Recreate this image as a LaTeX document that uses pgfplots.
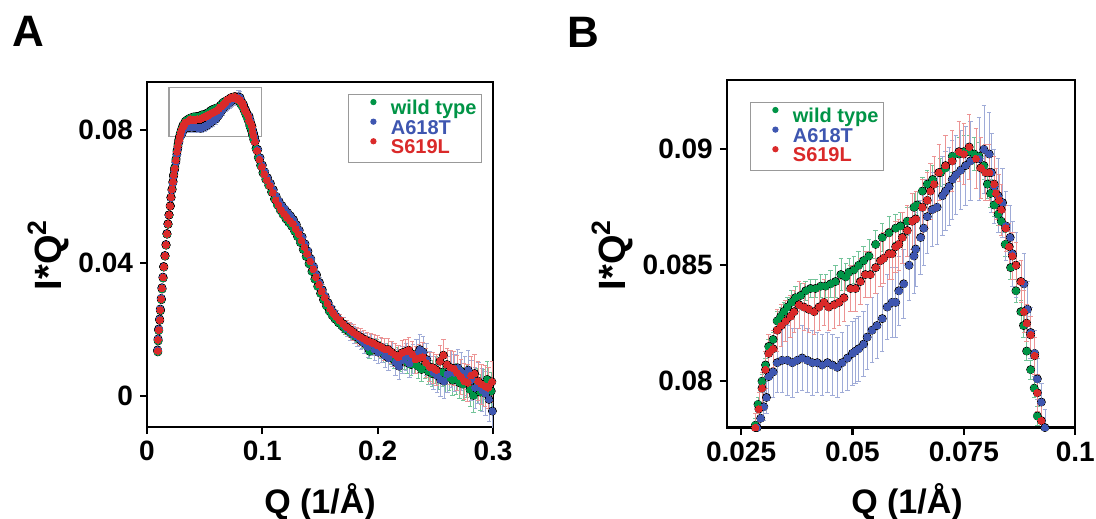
\documentclass[border=0pt]{standalone}
\usepackage{fontspec}
\setmainfont{Liberation Sans}
\usepackage{pgfplots}
\usepackage{pgfplotstable}
\pgfplotsset{compat=1.18}

\definecolor{wtgreen}{RGB}{0,148,70}
\definecolor{mblue}{RGB}{62,86,176}
\definecolor{mred}{RGB}{218,42,42}

% wild type: q, I*Q^2, error
\pgfplotstableread{
q i e
0.0094 0.0133 0.0002
0.0097 0.0166 0.0002
0.0102 0.0197 0.0002
0.0111 0.0228 0.0002
0.0117 0.0257 0.0002
0.0125 0.0290 0.0002
0.0131 0.0322 0.0002
0.0140 0.0355 0.0002
0.0146 0.0388 0.0002
0.0157 0.0421 0.0002
0.0166 0.0454 0.0002
0.0174 0.0487 0.0002
0.0183 0.0517 0.0002
0.0192 0.0545 0.0002
0.0203 0.0572 0.0002
0.0209 0.0598 0.0002
0.0218 0.0623 0.0002
0.0226 0.0646 0.0002
0.0232 0.0667 0.0002
0.0241 0.0688 0.0002
0.0252 0.0714 0.0002
0.0261 0.0740 0.0002
0.0269 0.0758 0.0002
0.0276 0.0772 0.0002
0.0282 0.0781 0.0003
0.0288 0.0790 0.0003
0.0297 0.0800 0.0003
0.0305 0.0807 0.0003
0.0312 0.0815 0.0003
0.0322 0.0818 0.0003
0.0331 0.0826 0.0004
0.0339 0.0828 0.0004
0.0346 0.0830 0.0004
0.0354 0.0832 0.0004
0.0363 0.0834 0.0005
0.0372 0.0836 0.0005
0.0384 0.0837 0.0005
0.0395 0.0839 0.0004
0.0406 0.0840 0.0004
0.0417 0.0840 0.0004
0.0429 0.0841 0.0005
0.0440 0.0841 0.0005
0.0451 0.0842 0.0006
0.0462 0.0843 0.0007
0.0474 0.0846 0.0007
0.0485 0.0845 0.0006
0.0492 0.0847 0.0006
0.0503 0.0848 0.0006
0.0514 0.0850 0.0006
0.0525 0.0852 0.0006
0.0537 0.0854 0.0007
0.0552 0.0859 0.0006
0.0567 0.0862 0.0006
0.0582 0.0864 0.0007
0.0597 0.0866 0.0006
0.0608 0.0867 0.0006
0.0623 0.0869 0.0006
0.0638 0.0875 0.0006
0.0645 0.0876 0.0006
0.0657 0.0882 0.0006
0.0668 0.0885 0.0006
0.0680 0.0887 0.0006
0.0698 0.0890 0.0006
0.0709 0.0892 0.0007
0.0724 0.0897 0.0007
0.0739 0.0898 0.0007
0.0750 0.0899 0.0007
0.0762 0.0899 0.0007
0.0773 0.0898 0.0007
0.0784 0.0897 0.0006
0.0795 0.0893 0.0006
0.0803 0.0885 0.0006
0.0810 0.0881 0.0006
0.0818 0.0876 0.0005
0.0827 0.0872 0.0005
0.0834 0.0869 0.0005
0.0843 0.0859 0.0005
0.0855 0.0849 0.0005
0.0867 0.0839 0.0005
0.0878 0.0830 0.0005
0.0884 0.0824 0.0005
0.0891 0.0813 0.0004
0.0900 0.0805 0.0004
0.0908 0.0797 0.0004
0.0915 0.0785 0.0004
0.0925 0.0772 0.0004
0.0945 0.0745 0.0004
0.0965 0.0718 0.0004
0.0985 0.0694 0.0004
0.1005 0.0672 0.0004
0.1030 0.0652 0.0004
0.1055 0.0634 0.0005
0.1080 0.0614 0.0005
0.1105 0.0593 0.0005
0.1130 0.0575 0.0005
0.1155 0.0560 0.0005
0.1180 0.0546 0.0005
0.1205 0.0533 0.0006
0.1230 0.0522 0.0006
0.1255 0.0511 0.0006
0.1280 0.0496 0.0006
0.1305 0.0480 0.0006
0.1330 0.0462 0.0006
0.1355 0.0441 0.0007
0.1380 0.0420 0.0007
0.1405 0.0398 0.0007
0.1430 0.0375 0.0008
0.1455 0.0352 0.0008
0.1480 0.0330 0.0008
0.1505 0.0309 0.0009
0.1530 0.0290 0.0009
0.1555 0.0272 0.0010
0.1580 0.0256 0.0010
0.1605 0.0243 0.0011
0.1630 0.0232 0.0011
0.1660 0.0221 0.0012
0.1690 0.0211 0.0013
0.1720 0.0201 0.0014
0.1750 0.0194 0.0015
0.1780 0.0186 0.0016
0.1810 0.0179 0.0017
0.1840 0.0172 0.0018
0.1870 0.0163 0.0019
0.1900 0.0155 0.0020
0.1930 0.0135 0.0022
0.1960 0.0150 0.0023
0.1990 0.0146 0.0024
0.2020 0.0140 0.0025
0.2050 0.0128 0.0026
0.2080 0.0133 0.0027
0.2110 0.0124 0.0028
0.2140 0.0112 0.0029
0.2170 0.0118 0.0030
0.2200 0.0106 0.0031
0.2230 0.0112 0.0032
0.2260 0.0100 0.0033
0.2290 0.0095 0.0034
0.2320 0.0104 0.0035
0.2350 0.0090 0.0036
0.2380 0.0080 0.0037
0.2410 0.0092 0.0038
0.2440 0.0074 0.0039
0.2470 0.0068 0.0040
0.2500 0.0080 0.0041
0.2530 0.0062 0.0042
0.2560 0.0072 0.0043
0.2590 0.0055 0.0044
0.2620 0.0061 0.0045
0.2650 0.0048 0.0046
0.2680 0.0052 0.0047
0.2710 0.0040 0.0048
0.2740 0.0036 0.0049
0.2770 0.0045 0.0050
0.2800 0.0020 0.0051
0.2830 0.0002 0.0052
0.2860 0.0030 0.0053
0.2890 0.0012 0.0054
0.2920 0.0024 0.0055
0.2950 0.0050 0.0056
0.2985 0.0015 0.0057
}\wt

% A618T
\pgfplotstableread{
q i e
0.0092 0.0139 0.0002
0.0096 0.0172 0.0002
0.0101 0.0202 0.0002
0.0109 0.0232 0.0002
0.0115 0.0262 0.0002
0.0123 0.0294 0.0002
0.0129 0.0326 0.0002
0.0138 0.0358 0.0002
0.0144 0.0390 0.0002
0.0155 0.0423 0.0002
0.0164 0.0456 0.0002
0.0172 0.0489 0.0002
0.0181 0.0518 0.0002
0.0190 0.0545 0.0002
0.0201 0.0572 0.0002
0.0207 0.0597 0.0002
0.0216 0.0620 0.0002
0.0224 0.0642 0.0002
0.0230 0.0661 0.0002
0.0239 0.0680 0.0002
0.0250 0.0704 0.0002
0.0259 0.0727 0.0002
0.0267 0.0745 0.0003
0.0277 0.0765 0.0003
0.0286 0.0780 0.0004
0.0294 0.0784 0.0005
0.0301 0.0789 0.0006
0.0307 0.0793 0.0007
0.0312 0.0802 0.0009
0.0322 0.0804 0.0011
0.0331 0.0808 0.0013
0.0342 0.0809 0.0014
0.0354 0.0809 0.0015
0.0365 0.0808 0.0015
0.0376 0.0809 0.0014
0.0387 0.0810 0.0014
0.0399 0.0809 0.0014
0.0410 0.0808 0.0014
0.0421 0.0808 0.0013
0.0432 0.0807 0.0013
0.0444 0.0808 0.0013
0.0455 0.0807 0.0013
0.0466 0.0806 0.0013
0.0477 0.0808 0.0013
0.0489 0.0810 0.0014
0.0500 0.0812 0.0014
0.0507 0.0813 0.0014
0.0514 0.0814 0.0014
0.0525 0.0816 0.0014
0.0533 0.0819 0.0014
0.0544 0.0822 0.0014
0.0555 0.0824 0.0014
0.0567 0.0827 0.0014
0.0578 0.0832 0.0014
0.0589 0.0834 0.0015
0.0597 0.0834 0.0015
0.0604 0.0839 0.0015
0.0615 0.0842 0.0015
0.0627 0.0850 0.0015
0.0638 0.0854 0.0016
0.0642 0.0857 0.0016
0.0653 0.0862 0.0016
0.0660 0.0866 0.0016
0.0668 0.0871 0.0016
0.0679 0.0874 0.0016
0.0690 0.0875 0.0016
0.0702 0.0880 0.0017
0.0709 0.0882 0.0017
0.0717 0.0884 0.0017
0.0724 0.0887 0.0017
0.0732 0.0889 0.0017
0.0743 0.0891 0.0017
0.0754 0.0893 0.0017
0.0765 0.0895 0.0017
0.0784 0.0896 0.0018
0.0795 0.0900 0.0019
0.0807 0.0898 0.0018
0.0812 0.0890 0.0017
0.0818 0.0884 0.0016
0.0827 0.0880 0.0016
0.0837 0.0877 0.0015
0.0844 0.0867 0.0015
0.0854 0.0862 0.0014
0.0859 0.0855 0.0014
0.0867 0.0850 0.0014
0.0885 0.0842 0.0013
0.0893 0.0831 0.0012
0.0900 0.0821 0.0011
0.0909 0.0812 0.0010
0.0915 0.0801 0.0009
0.0924 0.0791 0.0008
0.0932 0.0780 0.0008
0.0940 0.0768 0.0007
0.0960 0.0742 0.0007
0.0980 0.0717 0.0007
0.1000 0.0695 0.0007
0.1020 0.0675 0.0007
0.1045 0.0657 0.0007
0.1070 0.0640 0.0008
0.1095 0.0621 0.0008
0.1120 0.0601 0.0008
0.1145 0.0586 0.0008
0.1170 0.0573 0.0008
0.1195 0.0562 0.0009
0.1220 0.0552 0.0009
0.1245 0.0542 0.0009
0.1270 0.0531 0.0009
0.1295 0.0516 0.0010
0.1320 0.0499 0.0010
0.1345 0.0479 0.0010
0.1370 0.0458 0.0011
0.1395 0.0436 0.0011
0.1420 0.0413 0.0012
0.1445 0.0389 0.0012
0.1470 0.0365 0.0013
0.1495 0.0342 0.0014
0.1520 0.0320 0.0015
0.1545 0.0300 0.0016
0.1570 0.0281 0.0017
0.1595 0.0264 0.0018
0.1620 0.0250 0.0019
0.1645 0.0238 0.0020
0.1675 0.0226 0.0021
0.1705 0.0214 0.0023
0.1735 0.0203 0.0024
0.1765 0.0194 0.0025
0.1795 0.0185 0.0026
0.1825 0.0178 0.0027
0.1855 0.0168 0.0028
0.1885 0.0160 0.0030
0.1915 0.0148 0.0031
0.1945 0.0155 0.0032
0.1975 0.0140 0.0033
0.2005 0.0132 0.0034
0.2035 0.0138 0.0035
0.2065 0.0122 0.0036
0.2095 0.0115 0.0037
0.2125 0.0126 0.0038
0.2155 0.0102 0.0039
0.2185 0.0090 0.0040
0.2215 0.0108 0.0041
0.2245 0.0118 0.0042
0.2275 0.0098 0.0043
0.2305 0.0112 0.0044
0.2335 0.0125 0.0045
0.2365 0.0140 0.0046
0.2395 0.0132 0.0047
0.2425 0.0110 0.0048
0.2455 0.0085 0.0049
0.2485 0.0070 0.0050
0.2515 0.0062 0.0051
0.2545 0.0050 0.0052
0.2575 0.0045 0.0053
0.2605 0.0066 0.0054
0.2635 0.0082 0.0055
0.2665 0.0070 0.0056
0.2695 0.0085 0.0057
0.2725 0.0074 0.0058
0.2755 0.0060 0.0059
0.2785 0.0078 0.0060
0.2815 0.0048 0.0061
0.2845 0.0025 0.0062
0.2875 0.0040 0.0063
0.2905 0.0018 0.0064
0.2935 0.0008 0.0065
0.2965 -0.0010 0.0066
0.2995 -0.0045 0.0067
}\mta

% S619L
\pgfplotstableread{
q i e
0.0093 0.0136 0.0002
0.0095 0.0169 0.0002
0.0101 0.0199 0.0002
0.0110 0.0229 0.0002
0.0116 0.0259 0.0002
0.0124 0.0292 0.0002
0.0130 0.0324 0.0002
0.0139 0.0357 0.0002
0.0145 0.0389 0.0002
0.0156 0.0422 0.0002
0.0165 0.0455 0.0002
0.0173 0.0488 0.0002
0.0182 0.0518 0.0002
0.0191 0.0545 0.0002
0.0202 0.0572 0.0002
0.0208 0.0598 0.0002
0.0217 0.0622 0.0002
0.0225 0.0645 0.0002
0.0231 0.0665 0.0002
0.0240 0.0685 0.0002
0.0251 0.0710 0.0002
0.0260 0.0735 0.0002
0.0268 0.0752 0.0003
0.0275 0.0768 0.0003
0.0282 0.0780 0.0006
0.0290 0.0788 0.0007
0.0297 0.0797 0.0007
0.0305 0.0805 0.0008
0.0312 0.0812 0.0008
0.0322 0.0814 0.0008
0.0331 0.0822 0.0009
0.0340 0.0824 0.0009
0.0350 0.0826 0.0009
0.0361 0.0828 0.0009
0.0369 0.0830 0.0009
0.0380 0.0833 0.0010
0.0391 0.0832 0.0010
0.0402 0.0831 0.0010
0.0414 0.0830 0.0010
0.0425 0.0832 0.0010
0.0436 0.0834 0.0010
0.0447 0.0832 0.0010
0.0459 0.0833 0.0010
0.0470 0.0834 0.0010
0.0481 0.0836 0.0010
0.0496 0.0840 0.0010
0.0507 0.0840 0.0010
0.0518 0.0843 0.0010
0.0529 0.0846 0.0010
0.0540 0.0846 0.0010
0.0552 0.0849 0.0011
0.0563 0.0852 0.0011
0.0570 0.0853 0.0011
0.0582 0.0855 0.0011
0.0589 0.0855 0.0011
0.0597 0.0858 0.0011
0.0604 0.0859 0.0011
0.0612 0.0862 0.0011
0.0623 0.0865 0.0011
0.0634 0.0869 0.0012
0.0642 0.0870 0.0012
0.0657 0.0875 0.0012
0.0668 0.0878 0.0012
0.0675 0.0882 0.0012
0.0683 0.0885 0.0012
0.0694 0.0890 0.0012
0.0709 0.0893 0.0013
0.0724 0.0895 0.0013
0.0739 0.0899 0.0013
0.0750 0.0898 0.0013
0.0762 0.0901 0.0014
0.0777 0.0896 0.0013
0.0788 0.0892 0.0013
0.0799 0.0890 0.0012
0.0807 0.0890 0.0012
0.0818 0.0885 0.0012
0.0822 0.0881 0.0011
0.0829 0.0878 0.0011
0.0834 0.0874 0.0011
0.0844 0.0866 0.0010
0.0852 0.0858 0.0010
0.0859 0.0854 0.0010
0.0867 0.0850 0.0010
0.0878 0.0843 0.0009
0.0885 0.0830 0.0009
0.0891 0.0825 0.0008
0.0900 0.0820 0.0008
0.0909 0.0811 0.0008
0.0915 0.0795 0.0008
0.0924 0.0783 0.0008
0.0935 0.0765 0.0006
0.0955 0.0738 0.0006
0.0975 0.0712 0.0006
0.0995 0.0690 0.0006
0.1015 0.0668 0.0006
0.1040 0.0650 0.0006
0.1065 0.0633 0.0007
0.1090 0.0612 0.0007
0.1115 0.0590 0.0007
0.1140 0.0575 0.0007
0.1165 0.0560 0.0007
0.1190 0.0548 0.0008
0.1215 0.0537 0.0008
0.1240 0.0527 0.0008
0.1265 0.0518 0.0008
0.1290 0.0502 0.0009
0.1315 0.0487 0.0009
0.1340 0.0468 0.0009
0.1365 0.0448 0.0010
0.1390 0.0428 0.0010
0.1415 0.0405 0.0011
0.1440 0.0382 0.0011
0.1465 0.0358 0.0012
0.1490 0.0336 0.0012
0.1515 0.0315 0.0013
0.1540 0.0296 0.0014
0.1565 0.0278 0.0015
0.1590 0.0262 0.0016
0.1615 0.0249 0.0017
0.1640 0.0238 0.0018
0.1670 0.0228 0.0019
0.1700 0.0218 0.0020
0.1730 0.0208 0.0021
0.1760 0.0200 0.0022
0.1790 0.0192 0.0023
0.1820 0.0184 0.0024
0.1850 0.0178 0.0025
0.1880 0.0172 0.0026
0.1910 0.0166 0.0027
0.1940 0.0162 0.0028
0.1970 0.0158 0.0029
0.2000 0.0152 0.0030
0.2030 0.0147 0.0031
0.2060 0.0141 0.0032
0.2090 0.0140 0.0033
0.2120 0.0132 0.0034
0.2150 0.0124 0.0035
0.2180 0.0117 0.0036
0.2210 0.0130 0.0037
0.2240 0.0134 0.0038
0.2270 0.0138 0.0039
0.2300 0.0126 0.0040
0.2330 0.0110 0.0041
0.2360 0.0114 0.0042
0.2390 0.0118 0.0043
0.2420 0.0100 0.0044
0.2450 0.0088 0.0045
0.2480 0.0085 0.0046
0.2510 0.0078 0.0047
0.2540 0.0105 0.0048
0.2570 0.0123 0.0049
0.2600 0.0095 0.0050
0.2630 0.0086 0.0051
0.2660 0.0083 0.0052
0.2690 0.0070 0.0053
0.2720 0.0058 0.0054
0.2750 0.0045 0.0055
0.2780 0.0040 0.0056
0.2810 0.0062 0.0057
0.2840 0.0068 0.0058
0.2870 0.0045 0.0059
0.2900 0.0036 0.0060
0.2930 0.0030 0.0061
0.2960 0.0025 0.0062
0.2990 0.0043 0.0063
}\msl

\pgfplotsset{
  panel/.style={
    scale only axis, clip=true,
    axis line style={line width=1.1bp, black},
    tick align=outside, major tick length=3.5bp,
    major tick style={line width=1.1bp, black},
    xtick pos=bottom, ytick pos=left,
    tick label style={font=\fontsize{14bp}{14bp}\selectfont\bfseries},
    scaled ticks=false,
    legend cell align=left,
    legend style={draw=gray!80, line width=0.5bp,
      font=\fontsize{10bp}{10bp}\selectfont\bfseries,
      inner sep=2.2bp,
      nodes={inner sep=0.5bp, text height=7bp, text depth=1.5bp}},
  },
  ebars/.style={forget plot, only marks, mark=none,
    error bars/.cd, y dir=both, y explicit,
    error bar style={line width=0.35bp, #1},
    error mark options={rotate=90, line width=0.35bp, mark size=1.1bp, #1}},
  dots/.style={forget plot, only marks, mark=*, mark size=1.7bp, color=#1,
    mark options={draw=#1, fill=#1, line width=0pt}},
}

\newcommand{\legdots}{%
  \addlegendimage{legend image code/.code={\path (0bp,0bp) (18bp,0bp); \fill[wtgreen] (10bp,3.5bp) circle (1.3bp);}}
  \addlegendentry{\textcolor{wtgreen}{wild type}}
  \addlegendimage{legend image code/.code={\path (0bp,0bp) (18bp,0bp); \fill[mblue] (10bp,3.5bp) circle (1.3bp);}}
  \addlegendentry{\textcolor{mblue}{A618T}}
  \addlegendimage{legend image code/.code={\path (0bp,0bp) (18bp,0bp); \fill[mred] (10bp,3.5bp) circle (1.3bp);}}
  \addlegendentry{\textcolor{mred}{S619L}}
}

\begin{document}
\begin{tikzpicture}
\useasboundingbox (0,0) rectangle (548bp,259.5bp);

% panel A
\begin{axis}[panel,
  at={(73.5bp,46bp)}, anchor=south west,
  width=173bp, height=172.5bp,
  xmin=0, xmax=0.3, ymin=-0.0093, ymax=0.0945,
  xtick={0,0.1,0.2,0.3}, xticklabels={0,0.1,0.2,0.3},
  ytick={0,0.04,0.08}, yticklabels={0,0.04,0.08},
  legend style={at={(0.581,0.965)}, anchor=north west},
]
\addplot[ebars=wtgreen!55] table[x=q, y=i, y error=e] {\wt};
\addplot[ebars=mblue!50] table[x=q, y=i, y error=e] {\mta};
\addplot[ebars=mred!50] table[x=q, y=i, y error=e] {\msl};
\addplot[dots=wtgreen] table[x=q, y=i] {\wt};
\addplot[dots=mblue] table[x=q, y=i] {\mta};
\addplot[dots=mred] table[x=q, y=i] {\msl};
\draw[gray!75, line width=0.6bp] (axis cs:0.019,0.078) rectangle (axis cs:0.099,0.0928);
\legdots
\end{axis}

% panel B
\begin{axis}[panel,
  at={(363.4bp,45.7bp)}, anchor=south west,
  width=174.2bp, height=173.9bp,
  xmin=0.0218, xmax=0.1, ymin=0.078, ymax=0.093,
  xtick={0.025,0.05,0.075,0.1}, xticklabels={0.025,0.05,0.075,0.1},
  ytick={0.08,0.085,0.09}, yticklabels={0.08,0.085,0.09},
  legend style={at={(0.0666,0.936)}, anchor=north west},
]
\addplot[ebars=wtgreen!55] table[x=q, y=i, y error=e] {\wt};
\addplot[ebars=mblue!50] table[x=q, y=i, y error=e] {\mta};
\addplot[ebars=mred!50] table[x=q, y=i, y error=e] {\msl};
\addplot[dots=wtgreen] table[x=q, y=i] {\wt};
\addplot[dots=mblue] table[x=q, y=i] {\mta};
\addplot[dots=mred] table[x=q, y=i] {\msl};
\legdots
\end{axis}

\node[font=\fontsize{22bp}{22bp}\selectfont\bfseries] at (14bp,244bp) {A};
\node[font=\fontsize{22bp}{22bp}\selectfont\bfseries] at (291.5bp,243.5bp) {B};
\node[font=\fontsize{19bp}{19bp}\selectfont\bfseries, rotate=90] at (24bp,132bp) {I*Q\textsuperscript{2}};
\node[font=\fontsize{19bp}{19bp}\selectfont\bfseries, rotate=90] at (306bp,132bp) {I*Q\textsuperscript{2}};
\node[font=\fontsize{17bp}{17bp}\selectfont\bfseries] at (160bp,8.5bp) {Q (1/Å)};
\node[font=\fontsize{17bp}{17bp}\selectfont\bfseries] at (453.5bp,8.5bp) {Q (1/Å)};
\end{tikzpicture}
\end{document}
